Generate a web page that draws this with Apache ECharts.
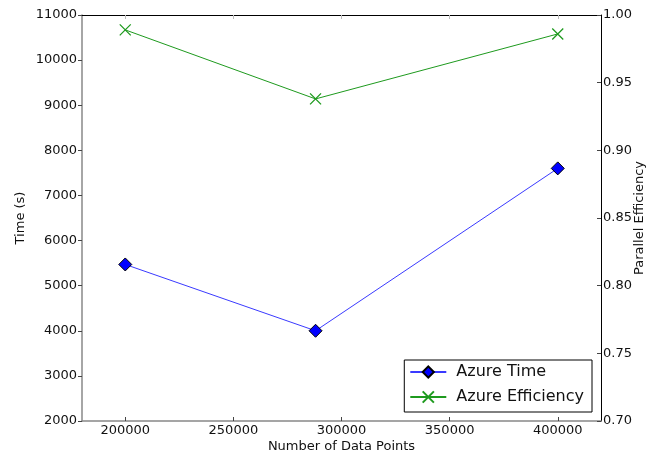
<!DOCTYPE html>
<html>
<head>
<meta charset="utf-8">
<script src="https://cdn.jsdelivr.net/npm/echarts@6/dist/echarts.min.js"></script>
<style>
  html, body { margin: 0; padding: 0; background: #fff; }
  #chart { width: 662px; height: 453px; }
</style>
</head>
<body>
<div id="chart"></div>
<script>
// Run sizes and measured results
const dataPoints = [200000, 288000, 400000];
const azureTime = [5470, 4000, 7600];
const azureEfficiency = [0.989, 0.938, 0.986];

// Tick positions on the x axis
const xTicks = [200000, 250000, 300000, 350000, 400000];

const FONT = 'DejaVu Sans';
const TEXT = '#111';
const textStyle = { fontFamily: FONT, color: TEXT };

const chart = echarts.init(document.getElementById('chart'));

const innerTick = { show: true, inside: true, length: 4, lineStyle: { color: '#444', width: 1 } };
const darkLine = { show: true, lineStyle: { color: '#000', width: 1 } };
const softLine = { show: true, lineStyle: { color: '#888', width: 1.5 } };

chart.setOption({
  animation: false,
  backgroundColor: '#fff',
  textStyle: { fontFamily: FONT },
  grid: { left: 82, right: 61, top: 15, bottom: 32, containLabel: false, outerBoundsMode: 'none' },
  legend: {
    right: 70,
    bottom: 41,
    orient: 'vertical',
    itemWidth: 36,
    itemHeight: 14,
    itemGap: 9,
    padding: [4, 8, 7, 5],
    borderColor: '#000',
    borderWidth: 1,
    borderRadius: 0,
    backgroundColor: '#fff',
    textStyle: { fontFamily: FONT, fontSize: 16, lineHeight: 16, color: TEXT, padding: [0, 0, 0, 5] },
    data: ['Azure Time', 'Azure Efficiency']
  },
  xAxis: [
    {
      type: 'value',
      min: 180000,
      max: 420000,
      position: 'bottom',
      name: 'Number of Data Points',
      nameLocation: 'middle',
      nameGap: 19,
      nameMoveOverlap: false,
      nameTextStyle: Object.assign({ fontSize: 13 }, textStyle),
      axisLine: softLine,
      axisTick: Object.assign({ customValues: xTicks }, innerTick),
      axisLabel: Object.assign({ customValues: xTicks, fontSize: 13, margin: 3, formatter: v => String(v) }, textStyle),
      splitLine: { show: false }
    },
    {
      type: 'value',
      min: 180000,
      max: 420000,
      position: 'top',
      axisLine: darkLine,
      axisTick: Object.assign({ customValues: xTicks }, innerTick, { lineStyle: { color: '#bbb', width: 1 } }),
      axisLabel: { show: false },
      splitLine: { show: false }
    }
  ],
  yAxis: [
    {
      type: 'value',
      min: 2000,
      max: 11000,
      interval: 1000,
      position: 'left',
      name: 'Time (s)',
      nameLocation: 'middle',
      nameRotate: 90,
      nameGap: 55,
      nameMoveOverlap: false,
      nameTextStyle: Object.assign({ fontSize: 13 }, textStyle),
      axisLine: softLine,
      axisTick: { show: true, inside: false, length: 4, lineStyle: { color: '#444', width: 1 } },
      axisLabel: Object.assign({ fontSize: 13, margin: 5, formatter: v => String(v) }, textStyle),
      splitLine: { show: false }
    },
    {
      type: 'value',
      min: 0.70,
      max: 1.00,
      interval: 0.05,
      position: 'right',
      name: 'Parallel Efficiency',
      nameLocation: 'middle',
      nameRotate: 90,
      nameGap: 32,
      nameMoveOverlap: false,
      nameTextStyle: Object.assign({ fontSize: 13 }, textStyle),
      axisLine: darkLine,
      axisTick: innerTick,
      axisLabel: Object.assign({ fontSize: 13, margin: 2, formatter: v => v.toFixed(2) }, textStyle),
      splitLine: { show: false }
    }
  ],
  series: [
    {
      name: 'Azure Time',
      type: 'line',
      xAxisIndex: 0,
      yAxisIndex: 0,
      data: dataPoints.map((x, i) => [x, azureTime[i]]),
      symbol: 'diamond',
      symbolSize: 13,
      lineStyle: { color: '#3a3aff', width: 1 },
      itemStyle: { color: '#0000ff', borderColor: '#000', borderWidth: 1 },
      z: 3
    },
    {
      name: 'Azure Efficiency',
      type: 'line',
      xAxisIndex: 0,
      yAxisIndex: 1,
      data: dataPoints.map((x, i) => [x, azureEfficiency[i]]),
      symbol: 'path://M0,0L10,10M10,0L0,10',
      symbolSize: 11,
      lineStyle: { color: '#1e9a1e', width: 1 },
      itemStyle: { color: 'rgba(0,0,0,0)', borderColor: '#1e9a1e', borderWidth: 1.3 },
      z: 3
    }
  ]
});
</script>
</body>
</html>
